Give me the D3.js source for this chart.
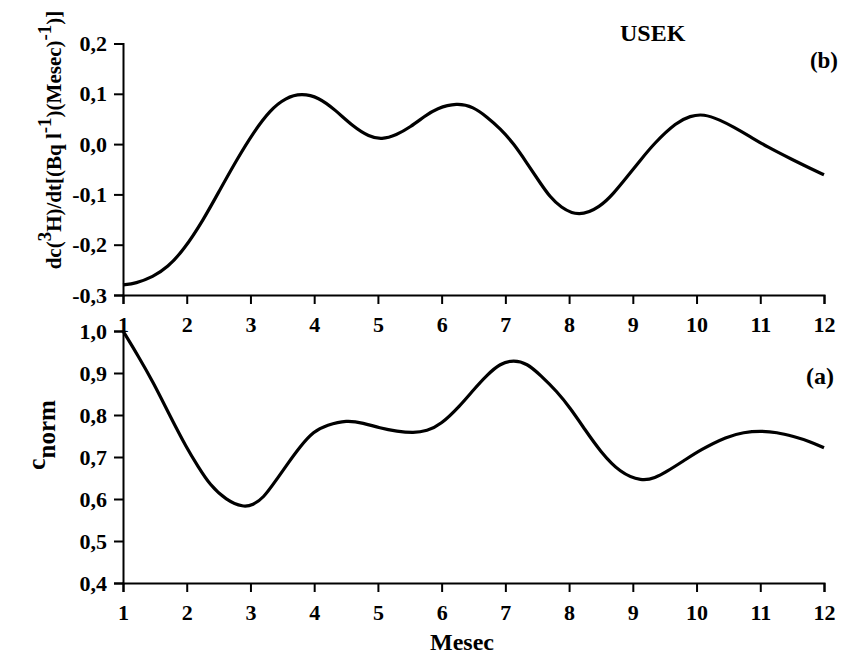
<!DOCTYPE html>
<html><head><meta charset="utf-8">
<script src="https://cdn.jsdelivr.net/npm/d3@7"></script>
<style>
body{margin:0;background:#fff;}
svg text{font-family:"Liberation Serif","Times New Roman",serif;font-weight:bold;fill:#000;}
</style></head>
<body><svg id="c" width="846" height="654"></svg>
<script>
// Month ticks
const monthTicks = [1,2,3,4,5,6,7,8,9,10,11,12];
// Panel (b): derivative
const bMonths = [1.0,1.2,1.47,1.7,1.95,2.26,2.52,2.78,3.05,3.31,3.55,3.8,4.07,4.33,4.62,4.86,5.06,5.29,5.51,5.74,5.92,6.24,6.5,6.71,6.92,7.13,7.34,7.55,7.7,7.86,8.15,8.49,8.7,8.91,9.12,9.33,9.69,9.9,10.11,10.37,10.58,10.84,11.1,11.52,11.78,12.0];
const bValues = [-0.280,-0.277,-0.264,-0.245,-0.211,-0.151,-0.091,-0.032,0.024,0.068,0.092,0.101,0.093,0.068,0.034,0.015,0.009,0.018,0.034,0.056,0.071,0.082,0.074,0.054,0.031,0.001,-0.038,-0.078,-0.105,-0.125,-0.145,-0.125,-0.098,-0.065,-0.032,0.001,0.044,0.056,0.060,0.048,0.034,0.015,-0.005,-0.032,-0.048,-0.061];
const bTicks = [-0.3,-0.2,-0.1,0.0,0.1,0.2];
// Panel (a): normalized concentration
const aMonths = [1.0,1.24,1.47,1.73,2.0,2.18,2.36,2.62,2.89,3.04,3.2,3.39,3.57,3.78,3.99,4.2,4.51,4.77,5.03,5.3,5.56,5.77,5.98,6.29,6.5,6.71,6.92,7.13,7.34,7.55,7.81,8.02,8.25,8.49,8.8,9.14,9.35,9.53,9.8,10.06,10.48,10.74,11.0,11.26,11.52,11.78,12.0];
const aValues = [1.0,0.94,0.879,0.80,0.721,0.677,0.634,0.597,0.580,0.586,0.602,0.642,0.681,0.725,0.761,0.776,0.788,0.781,0.769,0.761,0.757,0.762,0.776,0.822,0.86,0.895,0.923,0.931,0.923,0.895,0.856,0.816,0.765,0.713,0.662,0.642,0.650,0.665,0.691,0.717,0.749,0.759,0.762,0.759,0.749,0.737,0.722];
const aTicks = [0.4,0.5,0.6,0.7,0.8,0.9,1.0];

const svg = d3.select("#c");
const x = d3.scaleLinear().domain([1,12]).range([123,824]);
const yb = d3.scaleLinear().domain([-0.3,0.2]).range([295,43.5]);
const ya = d3.scaleLinear().domain([0.4,1.0]).range([583,331]);
const fmt = d => d3.format(".1f")(d).replace(".",",").replace("\u2212","-");

function styleAxis(g){
  g.select(".domain").attr("stroke","#000").attr("stroke-width",2);
  g.selectAll(".tick line").attr("stroke","#000").attr("stroke-width",2);
  g.selectAll(".tick text").attr("font-size",22).attr("font-family","Liberation Serif, serif").attr("font-weight","bold");
}

// Panel b axes
svg.append("g").attr("transform","translate(0,295)")
  .call(d3.axisBottom(x).tickValues(monthTicks).tickFormat(d3.format("d")).tickSizeOuter(0).tickSize(9).tickPadding(12))
  .call(styleAxis);
svg.append("g").attr("transform","translate(123,0)")
  .call(d3.axisLeft(yb).tickValues(bTicks).tickFormat(fmt).tickSizeOuter(0).tickSize(9).tickPadding(7))
  .call(styleAxis);

// Panel a axes
svg.append("g").attr("transform","translate(0,583)")
  .call(d3.axisBottom(x).tickValues(monthTicks).tickFormat(d3.format("d")).tickSizeOuter(0).tickSize(9).tickPadding(12))
  .call(styleAxis);
svg.append("g").attr("transform","translate(123,0)")
  .call(d3.axisLeft(ya).tickValues(aTicks).tickFormat(fmt).tickSizeOuter(0).tickSize(9).tickPadding(7))
  .call(styleAxis);

// Lines
const lineB = d3.line().x((d,i)=>x(bMonths[i])).y(d=>yb(d)).curve(d3.curveBasis);
const lineA = d3.line().x((d,i)=>x(aMonths[i])).y(d=>ya(d)).curve(d3.curveBasis);
svg.append("path").datum(bValues).attr("d",lineB).attr("fill","none").attr("stroke","#000").attr("stroke-width",3.2).attr("stroke-linejoin","round");
svg.append("path").datum(aValues).attr("d",lineA).attr("fill","none").attr("stroke","#000").attr("stroke-width",3.2).attr("stroke-linejoin","round");

// Labels
svg.append("text").attr("x",620).attr("y",41).attr("font-size",24).text("USEK");
svg.append("text").attr("x",838).attr("y",68).attr("text-anchor","end").attr("font-size",23).text("(b)");
svg.append("text").attr("x",834).attr("y",384).attr("text-anchor","end").attr("font-size",24).text("(a)");
svg.append("text").attr("x",462).attr("y",650).attr("text-anchor","middle").attr("font-size",24).text("Mesec");

// Y label panel b
const tb = svg.append("text").attr("transform","translate(61,140) rotate(-90)").attr("text-anchor","middle").attr("font-size",21);
tb.append("tspan").text("dc(");
tb.append("tspan").attr("dy",-10).attr("font-size",19).text("3");
tb.append("tspan").attr("dy",10).text("H)/dt[(Bq l");
tb.append("tspan").attr("dy",-10).attr("font-size",19).text("-1");
tb.append("tspan").attr("dy",10).text(")(Mesec)");
tb.append("tspan").attr("dy",-10).attr("font-size",19).text("-1");
tb.append("tspan").attr("dy",10).text(")]");

// Y label panel a
const ta = svg.append("text").attr("transform","translate(45,435) rotate(-90)").attr("text-anchor","middle").attr("font-size",26);
ta.append("tspan").text("c");
ta.append("tspan").attr("dy",10).attr("font-size",25).text("norm");
</script></body></html>
